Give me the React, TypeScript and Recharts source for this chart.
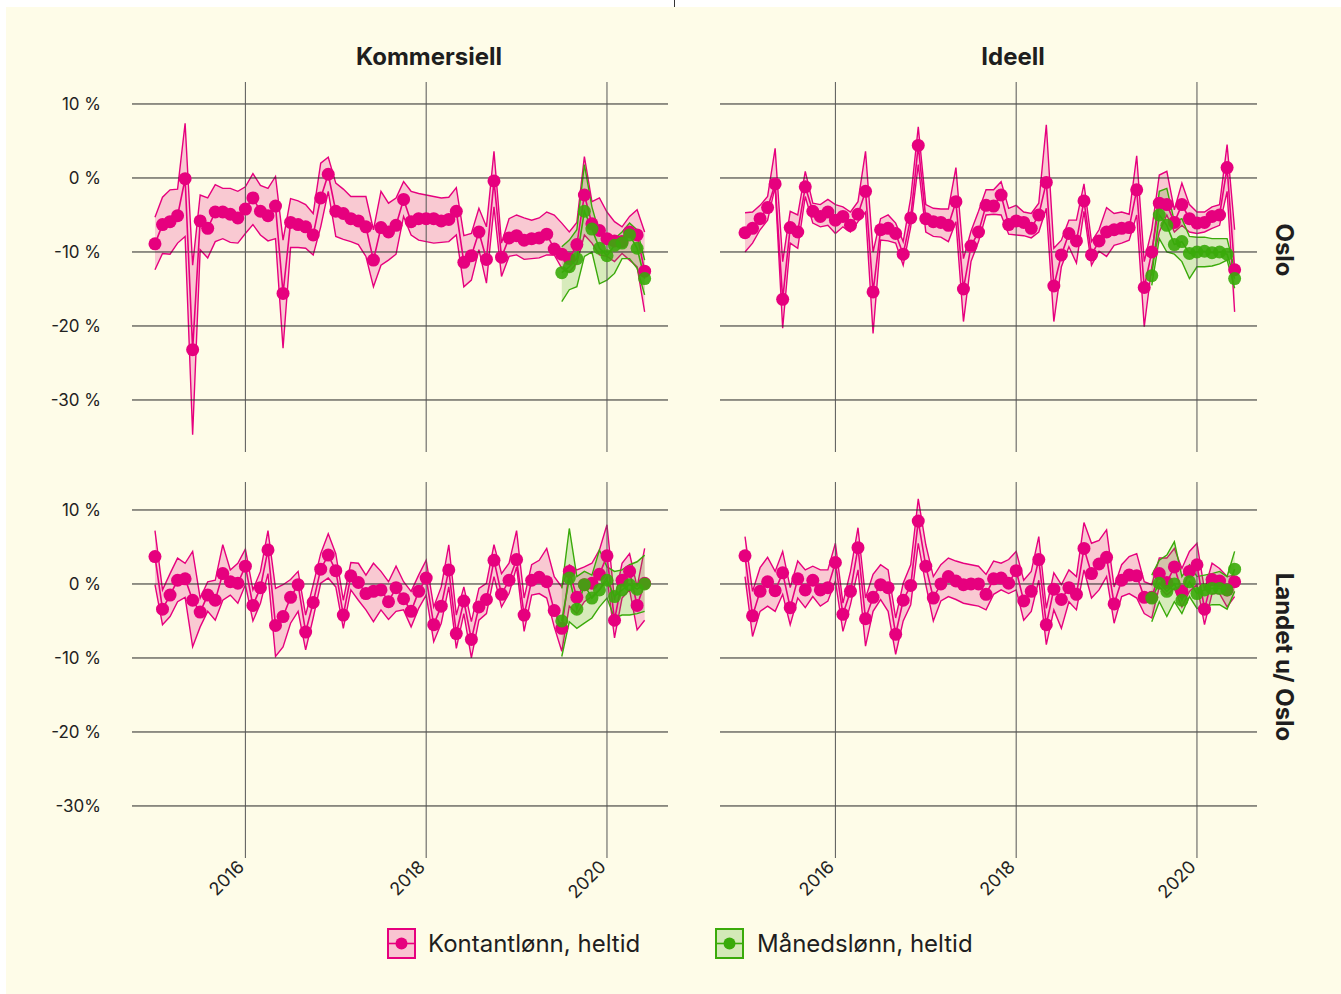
import React from "react";
import { Area, ComposedChart, Line, ReferenceLine, XAxis, YAxis } from "recharts";

const PINK = "#e6007e";
const GREEN = "#3aaa0a";
const BG = "#fefce8";
const HGRID = "#262626";
const VGRID = "#555555";
const FONT = "Inter, 'Noto Sans', sans-serif";

// month index 0 = Jan 2015, 65 = Jun 2020
const YEAR_TICKS = [12, 36, 60];
const YEAR_LABELS = ["2016", "2018", "2020"];
const Y_TICKS = [10, 0, -10, -20, -30];
const TOP_Y_LABELS = ["10 %", "0 %", "-10 %", "-20 %", "-30 %"];
const BOTTOM_Y_LABELS = ["10 %", "0 %", "-10 %", "-20 %", "-30%"];
const GREEN_START = 54;

// Kommersiell, Oslo
const komOsloMid = [-8.9, -6.3, -5.9, -5.1, -0.1, -23.2, -5.8, -6.8, -4.6, -4.6, -4.9, -5.4, -4.2, -2.7, -4.5, -5.1, -3.8, -15.6, -6.0, -6.3, -6.6, -7.7, -2.7, 0.5, -4.5, -4.8, -5.5, -5.8, -6.6, -11.1, -6.7, -7.3, -6.4, -2.9, -5.9, -5.5, -5.5, -5.5, -5.8, -5.6, -4.5, -11.4, -10.5, -7.3, -11.0, -0.4, -10.7, -8.1, -7.8, -8.4, -8.2, -8.1, -7.6, -9.6, -10.3, -10.9, -9.0, -2.3, -6.2, -7.1, -8.2, -8.5, -8.6, -7.3, -7.7, -12.6];
const komOsloHi = [-5.3, -2.6, -1.6, -1.5, 7.4, -11.8, -2.3, -2.7, -0.9, -1.4, -1.4, -1.8, -1.2, 0.6, -1.0, -1.4, 0.2, -8.4, -2.8, -3.1, -3.6, -4.8, 2.0, 2.8, -0.7, -1.5, -2.5, -2.5, -2.5, -7.0, -1.8, -3.4, -2.7, -0.5, -1.8, -2.1, -2.3, -2.5, -2.7, -2.6, -1.3, -7.8, -7.5, -4.1, -6.6, 3.6, -8.8, -5.5, -5.0, -5.4, -5.7, -5.4, -4.6, -5.0, -6.1, -7.3, -6.0, 2.9, -3.2, -2.7, -4.6, -5.9, -6.6, -5.2, -4.3, -7.3];
const komOsloLo = [-12.4, -10.2, -10.3, -8.8, -7.9, -34.7, -9.7, -10.8, -8.6, -8.2, -8.7, -8.8, -7.5, -6.3, -7.7, -8.5, -8.2, -23.0, -9.4, -9.4, -9.5, -10.4, -6.6, -1.8, -7.9, -8.3, -8.6, -9.0, -10.6, -14.7, -11.8, -11.1, -10.3, -5.2, -7.7, -8.4, -8.6, -8.8, -8.7, -8.6, -7.7, -14.7, -13.8, -9.7, -14.2, -3.9, -13.3, -10.6, -10.4, -11.0, -10.9, -10.8, -10.4, -10.4, -12.2, -12.7, -11.5, -7.7, -8.8, -10.4, -10.6, -11.3, -10.2, -11.1, -12.0, -18.1];
const komOsloMndMid = [-12.8, -12.0, -10.9, -4.5, -6.9, -9.5, -10.5, -9.1, -8.8, -7.7, -9.5, -13.6];
const komOsloMndHi = [-9.3, -8.4, -7.0, 1.8, -3.9, -7.5, -8.2, -8.2, -7.3, -6.1, -7.0, -11.1];
const komOsloMndLo = [-16.7, -15.1, -14.7, -10.6, -10.0, -14.3, -13.8, -12.9, -10.9, -10.9, -12.2, -15.8];

// Ideell, Oslo
const ideOsloMid = [-7.4, -6.8, -5.5, -4.0, -0.8, -16.4, -6.7, -7.3, -1.2, -4.5, -5.2, -4.6, -5.7, -5.2, -6.4, -4.9, -1.8, -15.4, -7.0, -6.8, -7.5, -10.3, -5.4, 4.4, -5.5, -5.9, -6.0, -6.4, -3.2, -15.0, -9.2, -7.3, -3.7, -3.8, -2.3, -6.3, -5.8, -6.0, -6.8, -5.0, -0.6, -14.6, -10.4, -7.5, -8.5, -3.1, -10.4, -8.5, -7.3, -7.0, -6.8, -6.7, -1.6, -14.8, -10.0, -3.4, -3.6, -6.0, -3.6, -5.5, -6.1, -6.0, -5.2, -5.0, 1.4, -12.4];
const ideOsloHi = [-4.7, -4.6, -3.7, -2.5, 4.0, -11.3, -4.5, -5.0, 0.9, -3.4, -3.6, -2.9, -3.6, -3.9, -4.6, -3.2, 3.6, -10.0, -5.5, -5.0, -6.1, -8.6, -2.7, 6.9, -3.6, -4.1, -4.2, -4.2, 1.4, -10.9, -7.2, -4.5, -1.6, -1.6, -0.5, -4.1, -3.7, -4.6, -4.8, -3.4, 7.2, -9.5, -8.4, -5.7, -5.7, -0.8, -8.6, -7.0, -4.0, -4.8, -4.6, -4.9, 3.0, -11.3, -7.0, 0.4, 0.9, -4.3, -0.7, -3.6, -4.6, -4.6, -3.9, -3.6, 4.5, -7.0];
const ideOsloLo = [-10.0, -8.8, -7.0, -5.7, -1.2, -20.3, -8.8, -9.5, -2.5, -6.1, -6.6, -6.4, -7.5, -6.6, -7.3, -5.9, -4.6, -21.0, -8.4, -8.5, -8.8, -11.8, -6.6, 1.8, -7.3, -7.9, -8.0, -8.6, -5.9, -19.4, -11.3, -8.6, -5.0, -4.9, -5.0, -7.6, -7.7, -7.8, -8.1, -7.3, -4.1, -19.4, -12.0, -9.3, -11.5, -4.5, -11.8, -9.9, -10.6, -9.1, -8.8, -8.4, -5.0, -20.1, -12.0, -7.3, -5.0, -7.3, -6.4, -7.3, -7.5, -7.3, -6.8, -6.4, -1.8, -18.1];
const ideOsloMndMid = [-13.2, -5.0, -6.4, -9.0, -8.6, -10.2, -10.0, -9.9, -10.1, -10.0, -10.3, -13.6];
const ideOsloMndHi = [-10.4, -1.8, -1.4, -5.9, -5.5, -7.9, -8.0, -8.0, -8.2, -8.2, -8.2, -12.4];
const ideOsloMndLo = [-14.5, -8.2, -10.0, -10.3, -11.3, -13.6, -12.0, -12.0, -11.9, -11.6, -11.1, -14.9];

// Kommersiell, Landet u/ Oslo
const komLandMid = [3.7, -3.4, -1.5, 0.5, 0.7, -2.2, -3.8, -1.5, -2.2, 1.4, 0.3, 0.1, 2.4, -2.9, -0.5, 4.6, -5.6, -4.4, -1.8, -0.1, -6.5, -2.5, 2.0, 3.9, 1.8, -4.2, 1.1, 0.2, -1.3, -1.0, -0.8, -2.4, -0.5, -2.0, -3.7, -1.0, 0.8, -5.5, -3.0, 1.9, -6.7, -2.3, -7.5, -3.1, -2.1, 3.2, -1.4, 0.5, 3.3, -4.2, 0.5, 0.9, 0.3, -3.6, -6.0, 1.7, -1.8, -0.1, 0.1, 1.3, 3.8, -4.9, 0.5, 1.7, -2.9, 0.1];
const komLandHi = [7.2, -0.8, 1.4, 3.5, 2.8, 4.4, -1.9, 0.3, 0.5, 5.3, 1.9, 2.8, 4.7, -0.8, 1.7, 7.2, -0.6, -0.1, 0.6, 1.7, -4.2, -0.1, 4.1, 6.8, 4.1, -2.2, 2.9, 2.8, 1.2, 2.8, 1.7, 0.3, 2.4, 0.3, -1.0, 1.2, 3.2, -3.1, -0.4, 5.3, -4.2, -0.4, -5.1, -0.6, 0.1, 5.3, 1.4, 2.8, 7.2, -1.9, 2.6, 3.2, 4.8, 1.0, -0.4, 2.6, 1.9, 2.3, 2.8, 4.6, 8.0, -2.2, 2.8, 4.1, -0.4, 4.8];
const komLandLo = [-0.1, -5.5, -4.4, -2.4, -1.8, -8.5, -5.8, -3.7, -4.9, -2.2, -1.5, -2.6, -0.1, -5.0, -2.6, 1.4, -9.8, -8.5, -5.3, -3.7, -8.9, -4.6, 0.1, 0.8, -0.4, -6.0, -0.8, -2.2, -3.5, -5.1, -3.5, -4.8, -3.7, -3.5, -5.8, -3.3, -1.5, -7.8, -5.3, -0.4, -8.7, -4.0, -10.0, -4.9, -4.0, 1.0, -3.1, -1.3, 2.3, -6.4, -1.5, -1.3, -1.9, -5.8, -9.1, -3.0, -4.0, -2.4, -1.7, -0.8, 1.0, -7.3, -1.9, -0.8, -6.2, -4.9];
const komLandMndMid = [-5.0, 0.8, -3.4, -0.1, -1.9, -0.8, 0.5, -1.7, -0.8, -0.1, -0.7, 0.0];
const komLandMndHi = [-0.6, 7.5, 1.0, 1.7, 1.2, 4.6, 2.3, 1.7, 1.9, 2.6, 3.0, 3.9];
const komLandMndLo = [-9.8, -5.1, -6.0, -5.3, -4.6, -3.1, -1.9, -4.6, -4.2, -4.2, -4.0, -3.7];

// Ideell, Landet u/ Oslo
const ideLandMid = [3.8, -4.3, -1.0, 0.3, -0.9, 1.5, -3.2, 0.7, -0.8, 0.5, -0.8, -0.5, 2.9, -4.1, -1.0, 4.9, -4.7, -1.8, -0.1, -0.5, -6.8, -2.2, -0.2, 8.5, 2.4, -1.9, 0.0, 1.0, 0.4, -0.1, 0.0, 0.0, -1.4, 0.7, 0.8, 0.1, 1.8, -2.3, -1.0, 3.3, -5.5, -0.7, -2.1, -0.5, -1.4, 4.8, 1.4, 2.7, 3.6, -2.7, 0.5, 1.2, 1.1, -1.8, -1.8, 1.4, 0.2, 2.3, -1.0, 1.7, 2.6, -3.4, 0.6, 0.4, -0.8, 0.3];
const ideLandHi = [6.4, -1.0, 2.2, 3.6, 1.7, 4.4, -0.5, 3.1, 1.9, 2.4, 1.9, 1.9, 5.5, -2.6, 1.7, 7.6, -1.9, 1.3, 2.6, 1.9, -4.6, 0.1, 2.6, 11.5, 5.3, 1.0, 2.6, 3.5, 3.1, 2.8, 2.6, 2.4, 1.3, 3.1, 2.8, 3.3, 4.4, 0.5, 1.7, 6.4, -3.3, 1.5, -0.1, 1.9, 1.0, 8.3, 5.5, 5.9, 7.3, -0.4, 2.6, 3.7, 4.1, 0.3, -0.1, 3.5, 3.5, 4.8, 2.1, 4.4, 5.5, -0.8, 2.8, 2.1, 1.0, 1.2];
const ideLandLo = [1.0, -7.1, -3.7, -3.0, -3.7, -1.4, -5.5, -1.9, -3.2, -1.7, -3.0, -2.3, 0.4, -6.4, -2.8, 1.9, -8.4, -3.7, -2.1, -3.7, -9.5, -5.0, -2.8, 5.5, -0.1, -5.0, -2.3, -1.7, -2.1, -2.6, -2.8, -3.0, -3.5, -1.4, -0.8, -1.3, -0.8, -4.9, -3.7, 0.5, -8.2, -3.5, -6.0, -2.4, -3.5, 1.9, -1.9, -0.8, 1.0, -5.3, -1.7, -1.3, -1.9, -4.0, -4.6, -0.4, -1.5, -0.6, -3.1, -1.0, -0.1, -5.5, -1.3, -1.3, -3.1, -1.7];
const ideLandMndMid = [-1.9, 0.1, -1.0, 0.0, -2.2, 0.3, -1.3, -0.8, -0.6, -0.6, -0.8, 2.0];
const ideLandMndHi = [1.2, 3.2, 3.9, 5.7, 1.0, 2.6, 1.0, 1.2, 1.4, 1.7, 1.0, 4.4];
const ideLandMndLo = [-5.1, -2.4, -4.4, -2.4, -4.0, -1.7, -3.3, -3.1, -2.8, -2.8, -3.4, -1.0];

type Row = { x: number; mid: number; band: [number, number] };

function rader(mid: number[], lo: number[], hi: number[], start: number): Row[] {
  return mid.map((v, k) => ({ x: start + k, mid: v, band: [lo[k], hi[k]] }));
}

function AarTick(props: any) {
  const { x, y, payload } = props;
  const tx = x;
  const ty = y + 8;
  return (
    <text
      x={tx}
      y={ty}
      transform={`rotate(-45, ${tx}, ${ty})`}
      textAnchor="end"
      fontSize={18}
      fill="#222"
      fontFamily={FONT}
    >
      {YEAR_LABELS[YEAR_TICKS.indexOf(payload.value)] ?? ""}
    </text>
  );
}

type PanelProps = {
  left: number;
  top: number;
  width: number;
  height: number;
  xDomain: [number, number];
  yDomain: [number, number];
  yLabels?: string[];
  showX: boolean;
  kont: Row[];
  mnd: Row[];
};

function Panel({ left, top, width, height, xDomain, yDomain, yLabels, showX, kont, mnd }: PanelProps) {
  return (
    <div style={{ position: "absolute", left, top }}>
      <ComposedChart width={width} height={height} margin={{ top: 0, right: 0, bottom: 0, left: 0 }}>
        <XAxis
          type="number"
          dataKey="x"
          domain={xDomain}
          allowDataOverflow
          ticks={YEAR_TICKS}
          interval={0}
          hide={!showX}
          height={60}
          axisLine={false}
          tickSize={10}
          tickMargin={2}
          tickLine={{ stroke: VGRID, strokeWidth: 1 }}
          tick={<AarTick />}
        />
        <YAxis
          type="number"
          domain={yDomain}
          allowDataOverflow
          ticks={Y_TICKS}
          interval={0}
          hide={!yLabels}
          width={132}
          axisLine={false}
          tickLine={false}
          tickSize={0}
          tickMargin={31}
          tickFormatter={(v: number) => (yLabels ? yLabels[Y_TICKS.indexOf(v)] : "")}
          tick={{ fontSize: 17, fill: "#222", fontFamily: FONT }}
        />
        {Y_TICKS.map((t) => (
          <ReferenceLine key={"h" + t} y={t} stroke={HGRID} strokeWidth={1} />
        ))}
        {YEAR_TICKS.map((t) => (
          <ReferenceLine key={"v" + t} x={t} stroke={VGRID} strokeWidth={1} />
        ))}
        <Area
          data={kont}
          dataKey="band"
          type="linear"
          stroke={PINK}
          strokeWidth={1.4}
          fill={PINK}
          fillOpacity={0.2}
          dot={false}
          activeDot={false}
          isAnimationActive={false}
        />
        <Area
          data={mnd}
          dataKey="band"
          type="linear"
          stroke={GREEN}
          strokeWidth={1.4}
          fill={GREEN}
          fillOpacity={0.2}
          dot={false}
          activeDot={false}
          isAnimationActive={false}
        />
        <Line
          data={kont}
          dataKey="mid"
          type="linear"
          stroke={PINK}
          strokeWidth={1.6}
          dot={{ r: 6.5, fill: PINK, stroke: "none" }}
          activeDot={false}
          isAnimationActive={false}
        />
        <Line
          data={mnd}
          dataKey="mid"
          type="linear"
          stroke={GREEN}
          strokeWidth={1.6}
          dot={{ r: 6.5, fill: GREEN, stroke: "none", fillOpacity: 0.9 }}
          activeDot={false}
          isAnimationActive={false}
        />
      </ComposedChart>
    </div>
  );
}

function LegendKey({ color }: { color: string }) {
  return (
    <svg width={30} height={31} style={{ display: "block" }}>
      <rect x={1} y={1} width={27} height={29} fill={color} fillOpacity={0.22} stroke={color} strokeWidth={2} />
      <line x1={2} x2={27} y1={15.5} y2={15.5} stroke={color} strokeWidth={1.6} />
      <circle cx={14.5} cy={15.5} r={6} fill={color} />
    </svg>
  );
}

const LEFT_X: [number, number] = [-3.05, 68.1];
const RIGHT_X: [number, number] = [-3.32, 67.97];
const TOP_Y: [number, number] = [-37.03, 12.97];
const BOTTOM_Y: [number, number] = [-35.68, 13.78];

export default function App() {
  const txt: React.CSSProperties = { position: "absolute", fontFamily: FONT, color: "#1e1e1e", whiteSpace: "nowrap" };
  const strip: React.CSSProperties = { ...txt, width: 240, height: 30, lineHeight: "30px", textAlign: "center", fontSize: 24, fontWeight: 700, transform: "rotate(90deg)" };
  return (
    <div style={{ position: "absolute", left: 0, top: 0, width: 1341, height: 994, background: "#fff", overflow: "hidden" }}>
      <div style={{ position: "absolute", left: 674, top: 0, width: 1, height: 7, background: "#333" }} />
      <div style={{ position: "absolute", left: 6, top: 7, width: 1335, height: 987, background: BG }} />

      <div style={{ ...txt, left: 309, top: 42, width: 240, lineHeight: "30px", textAlign: "center", fontSize: 24, fontWeight: 700 }}>Kommersiell</div>
      <div style={{ ...txt, left: 893, top: 42, width: 240, lineHeight: "30px", textAlign: "center", fontSize: 24, fontWeight: 700 }}>Ideell</div>
      <div style={{ ...strip, left: 1164, top: 235 }}>Oslo</div>
      <div style={{ ...strip, left: 1164, top: 642 }}>Landet u/ Oslo</div>

      <Panel left={0} top={82} width={668} height={370} xDomain={LEFT_X} yDomain={TOP_Y} yLabels={TOP_Y_LABELS} showX={false}
        kont={rader(komOsloMid, komOsloLo, komOsloHi, 0)} mnd={rader(komOsloMndMid, komOsloMndLo, komOsloMndHi, GREEN_START)} />
      <Panel left={720} top={82} width={537} height={370} xDomain={RIGHT_X} yDomain={TOP_Y} showX={false}
        kont={rader(ideOsloMid, ideOsloLo, ideOsloHi, 0)} mnd={rader(ideOsloMndMid, ideOsloMndLo, ideOsloMndHi, GREEN_START)} />
      <Panel left={0} top={482} width={668} height={426} xDomain={LEFT_X} yDomain={BOTTOM_Y} yLabels={BOTTOM_Y_LABELS} showX
        kont={rader(komLandMid, komLandLo, komLandHi, 0)} mnd={rader(komLandMndMid, komLandMndLo, komLandMndHi, GREEN_START)} />
      <Panel left={720} top={482} width={537} height={426} xDomain={RIGHT_X} yDomain={BOTTOM_Y} showX
        kont={rader(ideLandMid, ideLandLo, ideLandHi, 0)} mnd={rader(ideLandMndMid, ideLandMndLo, ideLandMndHi, GREEN_START)} />

      <div style={{ position: "absolute", left: 387, top: 928 }}>
        <LegendKey color={PINK} />
      </div>
      <div style={{ ...txt, left: 428, top: 928, lineHeight: "32px", fontSize: 24 }}>Kontantlønn, heltid</div>
      <div style={{ position: "absolute", left: 715, top: 928 }}>
        <LegendKey color={GREEN} />
      </div>
      <div style={{ ...txt, left: 757, top: 928, lineHeight: "32px", fontSize: 24 }}>Månedslønn, heltid</div>
    </div>
  );
}
